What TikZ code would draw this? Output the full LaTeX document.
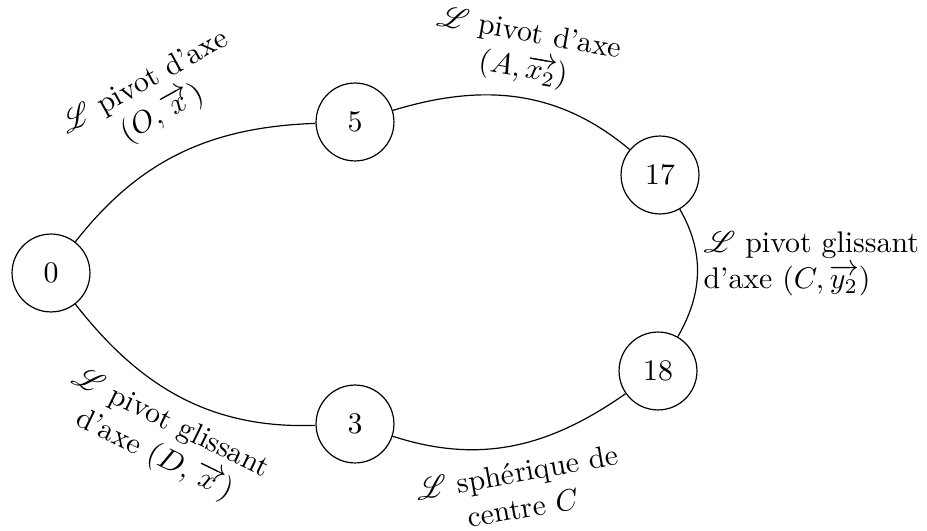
\documentclass[tikz,border=0pt]{standalone}
\usepackage{mathrsfs}
\usepackage{amsmath}
\begin{document}
\begin{tikzpicture}[x=0.335pt,y=-0.335pt,
  piece/.style={circle,draw,minimum size=26.1pt,inner sep=0pt,font=\normalsize},
  lab/.style={align=center,inner sep=0pt,font=\normalsize},
  link/.style={draw,line width=0.4pt}]
\useasboundingbox (0,0) rectangle (927,531);
\node[piece] (n0) at (51,273) {0};
\node[piece] (n5) at (355,122) {5};
\node[piece] (n17) at (660,175) {17};
\node[piece] (n18) at (658,371) {18};
\node[piece] (n3) at (355,424) {3};
\draw[link] (n0) to[out=52,in=182] (n5);
\draw[link] (n5) to[out=17,in=140] (n17);
\draw[link] (n17) to[out=-60,in=60] (n18);
\draw[link] (n18) to[out=-145,in=-18] (n3);
\draw[link] (n3) to[out=182,in=-52] (n0);
\node[lab,rotate=29] (l05) at (154,99) {$\mathscr{L}$ pivot d'axe\\$(O,\overrightarrow{x})$};
\node[lab,rotate=-10] (l517) at (526,53) {$\mathscr{L}$ pivot d'axe\\$(A,\overrightarrow{x_2})$};
\node[lab,anchor=west,align=left] (l1718) at (703,264) {$\mathscr{L}$ pivot glissant\\d'axe $(C,\overrightarrow{y_2})$};
\node[lab,rotate=10] (l183) at (520,490) {$\mathscr{L}$ sphérique de\\centre $C$};
\node[lab,rotate=-26] (l30) at (162,440) {$\mathscr{L}$ pivot glissant\\d'axe $(D,\overrightarrow{x})$};
\end{tikzpicture}
\end{document}
